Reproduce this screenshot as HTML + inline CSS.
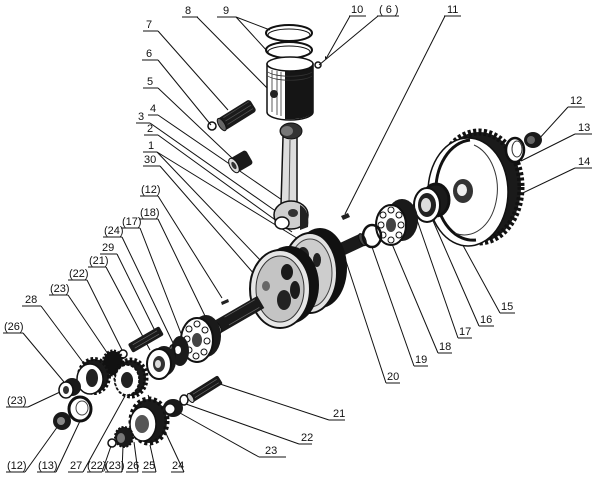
<!DOCTYPE html>
<html><head><meta charset="utf-8"><style>
html,body{margin:0;padding:0;background:#fff;}
svg{display:block;}
text{font-family:"Liberation Sans",sans-serif;font-size:11px;fill:#111;}
</style></head><body>
<svg width="600" height="480" viewBox="0 0 600 480" xmlns="http://www.w3.org/2000/svg">
<rect width="600" height="480" fill="#fff"/>

<g stroke="#111" stroke-width="1" fill="none">
<line x1="197" y1="17" x2="273" y2="94"/>
<line x1="236" y1="17" x2="270" y2="30"/>
<line x1="236" y1="17" x2="268" y2="52"/>
<line x1="350" y1="16" x2="327" y2="57"/>
<line x1="378" y1="16" x2="319" y2="65"/>
<line x1="445" y1="16" x2="345" y2="214"/>
<line x1="158" y1="31" x2="228" y2="110"/>
<line x1="158" y1="60" x2="211" y2="125"/>
<line x1="158" y1="88" x2="232" y2="158"/>
<line x1="158" y1="115" x2="285" y2="202"/>
<line x1="150" y1="123" x2="277" y2="212"/>
<line x1="158" y1="135" x2="292" y2="232"/>
<line x1="157" y1="152" x2="300" y2="240"/>
<line x1="157" y1="152" x2="262" y2="262"/>
<line x1="160" y1="166" x2="255" y2="275"/>
<line x1="158" y1="196" x2="222" y2="298"/>
<line x1="158" y1="219" x2="206" y2="318"/>
<line x1="140" y1="228" x2="182" y2="336"/>
<line x1="122" y1="237" x2="174" y2="345"/>
<line x1="117" y1="254" x2="158" y2="337"/>
<line x1="106" y1="267" x2="150" y2="350"/>
<line x1="87" y1="280" x2="122" y2="350"/>
<line x1="68" y1="295" x2="108" y2="354"/>
<line x1="41" y1="306" x2="85" y2="365"/>
<line x1="23" y1="333" x2="64" y2="382"/>
<line x1="28" y1="407" x2="60" y2="392"/>
<line x1="25" y1="472" x2="58" y2="426"/>
<line x1="56" y1="472" x2="80" y2="421"/>
<line x1="83" y1="472" x2="125" y2="396"/>
<line x1="102" y1="472" x2="111" y2="446"/>
<line x1="122" y1="472" x2="123" y2="446"/>
<line x1="138" y1="472" x2="134" y2="442"/>
<line x1="156" y1="472" x2="150" y2="445"/>
<line x1="184" y1="472" x2="148" y2="395"/>
<line x1="259" y1="457" x2="180" y2="413"/>
<line x1="299" y1="444" x2="186" y2="404"/>
<line x1="329" y1="420" x2="220" y2="384"/>
<line x1="386" y1="383" x2="344" y2="255"/>
<line x1="414" y1="366" x2="372" y2="247"/>
<line x1="438" y1="353" x2="392" y2="244"/>
<line x1="458" y1="338" x2="416" y2="217"/>
<line x1="479" y1="326" x2="430" y2="214"/>
<line x1="500" y1="313" x2="442" y2="207"/>
<line x1="575" y1="168" x2="508" y2="200"/>
<line x1="575" y1="134" x2="521" y2="161"/>
<line x1="568" y1="107" x2="538" y2="140"/>
</g>

<g stroke="#111" stroke-width="1">
<line x1="182" y1="17" x2="198" y2="17"/><line x1="217" y1="17" x2="236" y2="17"/>
<line x1="349" y1="16" x2="366" y2="16"/><line x1="377" y1="16" x2="399" y2="16"/>
<line x1="444" y1="16" x2="461" y2="16"/>
<line x1="143" y1="31" x2="158" y2="31"/><line x1="142" y1="60" x2="158" y2="60"/>
<line x1="143" y1="88" x2="158" y2="88"/><line x1="148" y1="115" x2="158" y2="115"/>
<line x1="136" y1="123" x2="150" y2="123"/><line x1="144" y1="135" x2="158" y2="135"/>
<line x1="143" y1="152" x2="157" y2="152"/><line x1="143" y1="166" x2="160" y2="166"/>
<line x1="140" y1="196" x2="158" y2="196"/><line x1="139" y1="219" x2="158" y2="219"/>
<line x1="121" y1="228" x2="140" y2="228"/><line x1="103" y1="237" x2="122" y2="237"/>
<line x1="100" y1="254" x2="117" y2="254"/><line x1="88" y1="267" x2="106" y2="267"/>
<line x1="68" y1="280" x2="87" y2="280"/><line x1="49" y1="295" x2="68" y2="295"/>
<line x1="22" y1="306" x2="41" y2="306"/><line x1="3" y1="333" x2="23" y2="333"/>
<line x1="6" y1="407" x2="28" y2="407"/>
<line x1="6" y1="472" x2="25" y2="472"/><line x1="37" y1="472" x2="56" y2="472"/>
<line x1="68" y1="472" x2="83" y2="472"/><line x1="87" y1="472" x2="102" y2="472"/>
<line x1="105" y1="472" x2="122" y2="472"/><line x1="126" y1="472" x2="138" y2="472"/>
<line x1="142" y1="472" x2="156" y2="472"/><line x1="171" y1="472" x2="184" y2="472"/>
<line x1="259" y1="457" x2="286" y2="457"/><line x1="299" y1="444" x2="312" y2="444"/>
<line x1="329" y1="420" x2="345" y2="420"/><line x1="386" y1="383" x2="400" y2="383"/>
<line x1="414" y1="366" x2="428" y2="366"/><line x1="438" y1="353" x2="452" y2="353"/>
<line x1="458" y1="338" x2="472" y2="338"/><line x1="479" y1="326" x2="494" y2="326"/>
<line x1="500" y1="313" x2="515" y2="313"/><line x1="575" y1="168" x2="592" y2="168"/>
<line x1="575" y1="134" x2="592" y2="134"/><line x1="568" y1="107" x2="585" y2="107"/>
</g>
<g>
<text x="185" y="14">8</text><text x="223" y="14">9</text>
<text x="351" y="13">10</text><text x="379" y="13">( 6 )</text><text x="447" y="13">11</text>
<text x="146" y="28">7</text><text x="146" y="57">6</text><text x="147" y="85">5</text>
<text x="150" y="112">4</text><text x="138" y="120">3</text><text x="147" y="132">2</text>
<text x="148" y="149">1</text><text x="144" y="163">30</text>
<text x="141" y="193">(12)</text><text x="140" y="216">(18)</text><text x="122" y="225">(17)</text>
<text x="104" y="234">(24)</text><text x="102" y="251">29</text><text x="89" y="264">(21)</text>
<text x="69" y="277">(22)</text><text x="50" y="292">(23)</text><text x="25" y="303">28</text>
<text x="4" y="330">(26)</text><text x="7" y="404">(23)</text>
<text x="7" y="469">(12)</text><text x="38" y="469">(13)</text><text x="70" y="469">27</text>
<text x="87" y="469">(22)</text><text x="105" y="469">(23)</text><text x="127" y="469">26</text>
<text x="143" y="469">25</text><text x="172" y="469">24</text>
<text x="265" y="454">23</text><text x="301" y="441">22</text><text x="333" y="417">21</text>
<text x="387" y="380">20</text><text x="415" y="363">19</text><text x="439" y="350">18</text>
<text x="459" y="335">17</text><text x="480" y="323">16</text><text x="501" y="310">15</text>
<text x="578" y="165">14</text><text x="578" y="131">13</text><text x="570" y="104">12</text>
</g>

<g stroke="#111" fill="none">
<ellipse cx="289" cy="33" rx="23" ry="8" stroke-width="2"/>
<ellipse cx="289" cy="35" rx="21" ry="6" stroke-width="1"/>
<ellipse cx="289" cy="50" rx="23" ry="8" stroke-width="2"/>
<ellipse cx="289" cy="52" rx="21" ry="6" stroke-width="1"/>
</g>
<path d="M267 64 L267 112 A23 8 0 0 0 313 112 L313 64 Z" fill="#fff" stroke="#111" stroke-width="1.5"/>
<path d="M285 64 L285 119 A23 8 0 0 0 313 112 L313 64 Z" fill="#151515"/>
<ellipse cx="290" cy="64" rx="23" ry="7" fill="#fff" stroke="#111" stroke-width="1.5"/>
<g stroke="#333" stroke-width="0.8">
<line x1="272" y1="70" x2="272" y2="112"/><line x1="277" y1="71" x2="277" y2="115"/><line x1="281" y1="72" x2="281" y2="116"/>
<path d="M268 72 A23 6 0 0 0 312 72" fill="none"/><path d="M268 76 A23 6 0 0 0 312 76" fill="none"/>
</g>
<circle cx="274" cy="94" r="4" fill="#222"/>
<circle cx="318" cy="65" r="3" fill="none" stroke="#111" stroke-width="1.5"/>
<path d="M325 56 l3 2 l-3 1z" fill="#111"/>

<path d="M283 137 L297 137 L297 205 L281 205 Z" fill="#ddd" stroke="#111" stroke-width="1.5"/>
<line x1="290" y1="140" x2="289" y2="203" stroke="#555" stroke-width="1"/>
<ellipse cx="291" cy="131" rx="11" ry="8" fill="#333" stroke="#111"/>
<ellipse cx="287" cy="131" rx="6" ry="5" fill="#777"/>
<ellipse cx="291" cy="215" rx="17" ry="14" fill="#cfcfcf" stroke="#111" stroke-width="1.5"/>
<path d="M300 205 q10 5 8 22 l-8 3 z" fill="#222"/>
<ellipse cx="282" cy="223" rx="7" ry="6" fill="#fff" stroke="#111" stroke-width="1.5"/>
<ellipse cx="293" cy="213" rx="5" ry="4" fill="#333"/>

<g transform="rotate(-32 237 115)">
<rect x="218" y="108" width="38" height="14" rx="3" fill="#1a1a1a"/>
<ellipse cx="219" cy="115" rx="3" ry="7" fill="#666" stroke="#111"/>
<g stroke="#555" stroke-width="0.7"><line x1="224" y1="110" x2="254" y2="110"/><line x1="224" y1="114" x2="254" y2="114"/><line x1="224" y1="118" x2="254" y2="118"/></g>
</g>
<circle cx="212" cy="126" r="4" fill="none" stroke="#111" stroke-width="1.5"/>

<g transform="rotate(-30 240 162)">
<rect x="231" y="154" width="20" height="16" rx="3" fill="#1a1a1a"/>
<ellipse cx="233" cy="162" rx="4" ry="8" fill="#ddd" stroke="#111"/>
<ellipse cx="233" cy="162" rx="2" ry="4" fill="#333"/>
</g>

<g transform="rotate(-25 350 246)">
<rect x="330" y="239" width="34" height="13" fill="#1a1a1a"/>
<ellipse cx="364" cy="245.5" rx="3" ry="6.5" fill="#444" stroke="#111"/>
</g>
<ellipse cx="320" cy="268" rx="27" ry="40" fill="#111"/>
<ellipse cx="310" cy="273" rx="27" ry="40" fill="#e2e2e2" stroke="#111" stroke-width="2"/>
<ellipse cx="310" cy="273" rx="22" ry="34" fill="#cdcdcd" stroke="#444" stroke-width="1"/>
<ellipse cx="303" cy="255" rx="6" ry="8" fill="#222"/>
<ellipse cx="317" cy="260" rx="4" ry="7" fill="#222"/>
<ellipse cx="303" cy="290" rx="5" ry="9" fill="#444"/>
<ellipse cx="289" cy="285" rx="30" ry="39" fill="#111"/>
<ellipse cx="280" cy="289" rx="30" ry="39" fill="#e6e6e6" stroke="#111" stroke-width="2"/>
<ellipse cx="280" cy="289" rx="24" ry="33" fill="#c4c4c4" stroke="#333" stroke-width="1"/>
<ellipse cx="287" cy="272" rx="6" ry="8" fill="#1a1a1a"/>
<ellipse cx="295" cy="290" rx="5" ry="9" fill="#1a1a1a"/>
<ellipse cx="284" cy="300" rx="7" ry="10" fill="#222"/>
<ellipse cx="266" cy="286" rx="4" ry="5" fill="#666"/>
<g transform="rotate(-30 240 314)">
<rect x="212" y="307" width="52" height="14" fill="#1a1a1a"/>
<ellipse cx="213" cy="314" rx="3.5" ry="7" fill="#eee" stroke="#111"/>
<g stroke="#666" stroke-width="0.7"><line x1="225" y1="309" x2="260" y2="309"/><line x1="225" y1="318" x2="260" y2="318"/></g>
</g>
<path d="M341 216 l7 -3 l2 4 l-7 3 z" fill="#222"/>
<path d="M221 302 l7 -3 l1 3 l-7 3 z" fill="#222"/>

<ellipse cx="479" cy="187" rx="42" ry="55" fill="#1a1a1a" stroke="#111" stroke-width="7" stroke-dasharray="3 2.2"/>
<ellipse cx="468" cy="192" rx="40" ry="54" fill="#fff" stroke="#111" stroke-width="1.5"/>
<path d="M470 140 A34 46 0 1 0 476 240" fill="none" stroke="#111" stroke-width="3"/>
<path d="M474 145 A30 42 0 1 1 455 233" fill="none" stroke="#333" stroke-width="1"/>
<ellipse cx="463" cy="191" rx="10" ry="12" fill="#333"/>
<ellipse cx="462" cy="190" rx="5" ry="6" fill="#eee"/>
<ellipse cx="515" cy="150" rx="9" ry="12" fill="#fff" stroke="#111" stroke-width="2.5"/>
<ellipse cx="517" cy="149" rx="5" ry="8" fill="#fff" stroke="#333" stroke-width="1"/>
<ellipse cx="533" cy="140" rx="9" ry="8" fill="#1a1a1a"/>
<ellipse cx="531" cy="140" rx="4" ry="4" fill="#666"/>
<ellipse cx="436" cy="200" rx="13" ry="16" fill="#1a1a1a" stroke="#111" stroke-width="3"/>
<ellipse cx="427" cy="205" rx="13" ry="17" fill="#fff" stroke="#111" stroke-width="2"/>
<ellipse cx="427" cy="205" rx="9" ry="12" fill="#222"/>
<ellipse cx="426" cy="205" rx="5" ry="7" fill="#ddd"/>
<ellipse cx="402" cy="220" rx="16" ry="21" fill="#1a1a1a"/>
<ellipse cx="391" cy="225" rx="15" ry="20" fill="#fff" stroke="#111" stroke-width="2"/>
<ellipse cx="391" cy="225" rx="5" ry="7" fill="#444"/>
<g fill="#fff" stroke="#111" stroke-width="1">
<circle cx="391" cy="210" r="3"/><circle cx="399" cy="215" r="3"/><circle cx="401" cy="225" r="3"/>
<circle cx="399" cy="235" r="3"/><circle cx="391" cy="240" r="3"/><circle cx="383" cy="235" r="3"/>
<circle cx="381" cy="225" r="3"/><circle cx="383" cy="215" r="3"/>
</g>
<ellipse cx="372" cy="236" rx="9" ry="11" fill="none" stroke="#111" stroke-width="2.5"/>

<ellipse cx="206" cy="336" rx="15" ry="21" fill="#1a1a1a"/>
<ellipse cx="197" cy="340" rx="16" ry="22" fill="#fff" stroke="#111" stroke-width="2"/>
<ellipse cx="197" cy="340" rx="5" ry="7" fill="#444"/>
<g fill="#fff" stroke="#111" stroke-width="1">
<circle cx="197" cy="324" r="3"/><circle cx="205" cy="330" r="3"/><circle cx="207" cy="341" r="3"/>
<circle cx="204" cy="352" r="3"/><circle cx="196" cy="356" r="3"/><circle cx="189" cy="350" r="3"/>
<circle cx="187" cy="339" r="3"/><circle cx="189" cy="329" r="3"/>
</g>
<ellipse cx="180" cy="351" rx="9" ry="15" fill="#1a1a1a"/>
<ellipse cx="178" cy="350" rx="3" ry="4" fill="#fff"/>
<ellipse cx="172" cy="355" rx="3" ry="10" fill="none" stroke="#111" stroke-width="1.5"/>
<g transform="rotate(-30 145 340)">
<rect x="128" y="335" width="36" height="10" rx="2" fill="#1a1a1a"/>
<g stroke="#666" stroke-width="0.7"><line x1="132" y1="338" x2="160" y2="338"/><line x1="132" y1="342" x2="160" y2="342"/></g>
</g>
<ellipse cx="164" cy="361" rx="12" ry="15" fill="#1a1a1a"/>
<ellipse cx="159" cy="364" rx="12" ry="15" fill="#fff" stroke="#111" stroke-width="2"/>
<ellipse cx="159" cy="364" rx="6" ry="8" fill="#333"/>
<ellipse cx="158" cy="364" rx="3" ry="4" fill="#ddd"/>
<ellipse cx="123" cy="354" rx="4" ry="4" fill="none" stroke="#111" stroke-width="1.5"/>
<ellipse cx="113" cy="363" rx="10" ry="12" fill="#111" stroke="#111" stroke-width="3" stroke-dasharray="2 1.5"/>
<ellipse cx="131" cy="378" rx="15" ry="18" fill="#1a1a1a" stroke="#111" stroke-width="5" stroke-dasharray="2.5 2"/>
<ellipse cx="127" cy="380" rx="12" ry="15" fill="#fff" stroke="#111" stroke-width="1.5" stroke-dasharray="3 1.5"/>
<ellipse cx="127" cy="380" rx="6" ry="8" fill="#222"/>
<ellipse cx="94" cy="376" rx="15" ry="17" fill="#1a1a1a" stroke="#111" stroke-width="4" stroke-dasharray="2.5 2"/>
<ellipse cx="90" cy="379" rx="13" ry="15" fill="#fff" stroke="#111" stroke-width="1.5"/>
<ellipse cx="92" cy="378" rx="6" ry="9" fill="#222"/>
<ellipse cx="72" cy="387" rx="9" ry="9" fill="#1a1a1a"/>
<ellipse cx="66" cy="390" rx="7" ry="8" fill="#fff" stroke="#111" stroke-width="1.5"/>
<ellipse cx="66" cy="390" rx="3" ry="4" fill="#333"/>
<ellipse cx="80" cy="409" rx="11" ry="12" fill="#fff" stroke="#111" stroke-width="3"/>
<ellipse cx="82" cy="408" rx="6" ry="7" fill="none" stroke="#444" stroke-width="1"/>
<ellipse cx="62" cy="421" rx="9" ry="9" fill="#1a1a1a"/>
<ellipse cx="61" cy="421" rx="4" ry="4" fill="#888"/>
<ellipse cx="149" cy="421" rx="18" ry="22" fill="#1a1a1a" stroke="#111" stroke-width="5" stroke-dasharray="3 2.5"/>
<ellipse cx="143" cy="424" rx="13" ry="17" fill="#fff" stroke="#111" stroke-width="1.5"/>
<ellipse cx="142" cy="424" rx="7" ry="9" fill="#555"/>
<ellipse cx="124" cy="437" rx="9" ry="10" fill="#1a1a1a" stroke="#111" stroke-width="2" stroke-dasharray="2 1.5"/>
<ellipse cx="121" cy="438" rx="4" ry="5" fill="#777"/>
<ellipse cx="112" cy="443" rx="4" ry="4" fill="none" stroke="#111" stroke-width="1.5"/>
<ellipse cx="173" cy="408" rx="10" ry="9" fill="#1a1a1a"/>
<ellipse cx="170" cy="409" rx="5" ry="5" fill="#fff" stroke="#111"/>
<ellipse cx="184" cy="400" rx="4" ry="5" fill="none" stroke="#111" stroke-width="1.5"/>
<g transform="rotate(-32 205 389)">
<rect x="187" y="384" width="36" height="10" rx="2" fill="#1a1a1a"/>
<ellipse cx="188" cy="389" rx="2.5" ry="5" fill="#ccc" stroke="#111"/>
<g stroke="#666" stroke-width="0.7"><line x1="192" y1="387" x2="220" y2="387"/><line x1="192" y1="391" x2="220" y2="391"/></g>
</g>
</svg>
</body></html>
